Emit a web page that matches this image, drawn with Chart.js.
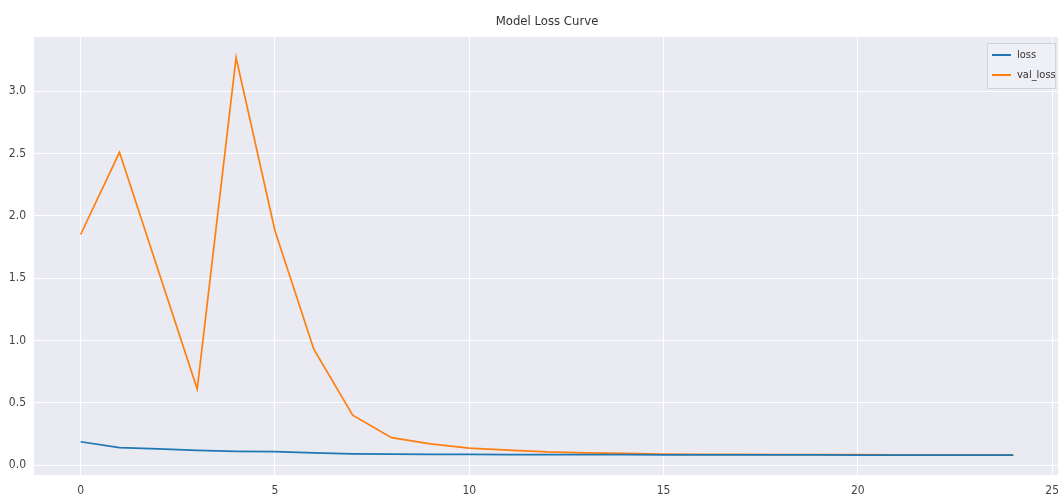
<!DOCTYPE html>
<html>
<head>
<meta charset="utf-8">
<title>Model Loss Curve</title>
<script src="https://cdn.jsdelivr.net/npm/chart.js@4.4.0/dist/chart.umd.min.js"></script>
<style>
  html, body { margin: 0; padding: 0; background: #fff; }
  #wrap { width: 1058px; height: 496px; }
</style>
</head>
<body>
<div id="wrap"><canvas id="lossChart"></canvas></div>
<script>
const epochs = [0, 1, 2, 3, 4, 5, 6, 7, 8, 9, 10, 11, 12, 13, 14, 15, 16, 17, 18, 19, 20, 21, 22, 23, 24];
const loss = [0.187, 0.14, 0.13, 0.118, 0.11, 0.107, 0.097, 0.089, 0.087, 0.086, 0.085, 0.084, 0.084, 0.083, 0.083, 0.082, 0.082, 0.081, 0.081, 0.081, 0.080, 0.080, 0.080, 0.080, 0.080];
const valLoss = [1.85, 2.51, 1.56, 0.61, 3.27, 1.88, 0.93, 0.40, 0.22, 0.17, 0.135, 0.12, 0.105, 0.098, 0.093, 0.088, 0.086, 0.085, 0.084, 0.083, 0.083, 0.082, 0.082, 0.081, 0.081];
const xTicks = [0, 5, 10, 15, 20, 25];
const yTicks = [0.0, 0.5, 1.0, 1.5, 2.0, 2.5, 3.0];
const chartTitle = 'Model Loss Curve';

const FONT = "'Liberation Sans Narrow', 'DejaVu Sans Condensed', sans-serif";

// grey plot background like seaborn darkgrid
const plotBg = {
    id: 'plotBg',
    beforeDraw(chart) {
        const { ctx, chartArea: a } = chart;
        ctx.save();
        ctx.fillStyle = '#eaeaf2';
        ctx.fillRect(a.left, a.top, a.right - a.left, a.bottom - a.top);
        ctx.restore();
    }
};

// title centred over the axes, not the whole canvas (matplotlib style)
const axesTitle = {
    id: 'axesTitle',
    afterDraw(chart) {
        const { ctx, chartArea: a } = chart;
        ctx.save();
        ctx.font = '13px ' + FONT;
        ctx.fillStyle = '#333';
        ctx.textAlign = 'center';
        ctx.textBaseline = 'middle';
        ctx.fillText(chartTitle, (a.left + a.right) / 2 + 1, 22);
        ctx.restore();
    }
};

// legend drawn inside the plot, top right
const innerLegend = {
    id: 'innerLegend',
    afterDraw(chart) {
        const { ctx, chartArea: a } = chart;
        const w = 68, h = 45;
        const x = a.right - w - 3, y = a.top + 6;
        ctx.save();
        ctx.fillStyle = 'rgba(240,240,246,0.9)';
        ctx.strokeStyle = '#d2d2da';
        ctx.lineWidth = 1;
        ctx.beginPath();
        ctx.rect(x + 0.5, y + 0.5, w, h);
        ctx.fill();
        ctx.stroke();
        ctx.font = '11px ' + FONT;
        ctx.textBaseline = 'middle';
        chart.data.datasets.forEach((ds, i) => {
            const ly = y + 12 + i * 20;
            ctx.strokeStyle = ds.borderColor;
            ctx.lineWidth = 2;
            ctx.beginPath();
            ctx.moveTo(x + 5, ly);
            ctx.lineTo(x + 24, ly);
            ctx.stroke();
            ctx.fillStyle = '#333';
            ctx.fillText(ds.label, x + 30, ly);
        });
        ctx.restore();
    }
};

new Chart(document.getElementById('lossChart'), {
    type: 'line',
    data: {
        labels: epochs,
        datasets: [
            {
                label: 'loss',
                data: epochs.map((e, i) => ({ x: e, y: loss[i] })),
                borderColor: '#1f77b4',
                borderWidth: 1.7,
                pointRadius: 0,
                tension: 0
            },
            {
                label: 'val_loss',
                data: epochs.map((e, i) => ({ x: e, y: valLoss[i] })),
                borderColor: '#ff7f0e',
                borderWidth: 1.7,
                pointRadius: 0,
                tension: 0
            }
        ]
    },
    options: {
        responsive: true,
        maintainAspectRatio: false,
        animation: false,
        layout: { padding: { left: 0, right: 0, top: 37, bottom: 0 } },
        scales: {
            x: {
                type: 'linear',
                min: -1.2,
                max: 25.15,
                afterBuildTicks: (s) => { s.ticks = xTicks.map(v => ({ value: v })); },
                afterFit: (s) => { s.paddingLeft = 0; s.paddingRight = 0; s.height = 21; },
                ticks: {
                    color: '#444',
                    font: { family: FONT, size: 12 },
                    padding: 9,
                    maxRotation: 0,
                    autoSkip: false
                },
                grid: { color: '#ffffff', lineWidth: 1, drawTicks: false },
                border: { display: false }
            },
            y: {
                min: -0.08,
                max: 3.435,
                afterBuildTicks: (s) => { s.ticks = yTicks.map(v => ({ value: v })); },
                afterFit: (s) => { s.width = 34; s.paddingTop = 0; s.paddingBottom = 0; },
                ticks: {
                    color: '#444',
                    font: { family: FONT, size: 12 },
                    padding: 8,
                    callback: (v) => Number(v).toFixed(1)
                },
                grid: { color: '#ffffff', lineWidth: 1, drawTicks: false },
                border: { display: false }
            }
        },
        plugins: {
            legend: { display: false },
            tooltip: { enabled: false },
            title: { display: false }
        }
    },
    plugins: [plotBg, axesTitle, innerLegend]
});
</script>
</body>
</html>
